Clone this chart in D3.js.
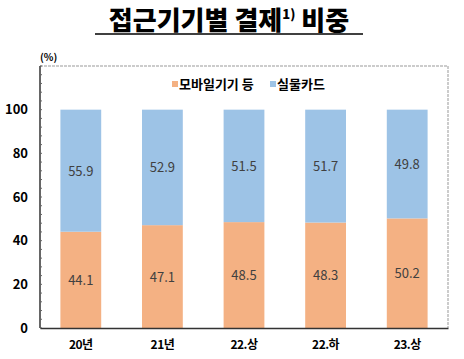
<!DOCTYPE html>
<html><head><meta charset="utf-8">
<script src="https://cdn.jsdelivr.net/npm/d3@7"></script>
<style>body{margin:0;background:#fff}svg{display:block}</style>
</head><body>
<svg id="c" width="464" height="359"></svg>
<script>
const categories = ["20년","21년","22.상","22.하","23.상"];
const mobile = [44.1, 47.1, 48.5, 48.3, 50.2];
const card = [55.9, 52.9, 51.5, 51.7, 49.8];
const seriesNames = ["모바일기기 등","실물카드"];
const yTicks = [0,20,40,60,80,100];
const colors = ["#F4B183","#9DC3E6"];

const svg = d3.select("#c");
const font = "'Noto Sans CJK KR', 'Noto Sans', sans-serif";
const m = {l:40, r:448, t:66, b:328};
const x = d3.scaleBand().domain(categories).range([m.l, m.r]).paddingInner(0.5).paddingOuter(0.25);
const y = d3.scaleLinear().domain([0,120]).range([m.b, m.t]);

// title
const title = svg.append("text").attr("x", 229).attr("y", 30).attr("text-anchor","middle")
  .attr("font-family", font).attr("font-weight", 900).attr("font-size", 26).attr("fill","#000");
title.append("tspan").text("접근기기별 결제");
title.append("tspan").text("1)").attr("font-size", 13).attr("dy", -11);
title.append("tspan").text(" 비중").attr("dy", 11);
svg.append("line").attr("x1", 95).attr("x2", 363).attr("y1", 34).attr("y2", 34).attr("stroke","#000").attr("stroke-width",1.3);

svg.append("text").attr("x", 40).attr("y", 61).text("(%)").attr("font-family", font)
  .attr("font-weight",700).attr("font-size",10);

// frame: dashed top/right
svg.append("path").attr("d", `M${m.l},${m.t}H${m.r}V${m.b}`).attr("fill","none")
  .attr("stroke","#999").attr("stroke-width",1).attr("stroke-dasharray","3,1");

const stacked = d3.stack().keys([0,1]).value((d,k)=> k===0 ? d.m : d.c)(
  categories.map((c,i)=>({cat:c, m:mobile[i], c:card[i]})));

stacked.forEach((s,si)=>{
  svg.append("g").selectAll("rect").data(s).join("rect")
    .attr("x", d=>x(d.data.cat)).attr("width", x.bandwidth())
    .attr("y", d=>y(d[1])).attr("height", d=>y(d[0])-y(d[1]))
    .attr("fill", colors[si]);
  svg.append("g").selectAll("text").data(s).join("text")
    .attr("x", d=>x(d.data.cat)+x.bandwidth()/2)
    .attr("y", d=>(y(d[0])+y(d[1]))/2 + 5)
    .attr("text-anchor","middle").attr("font-family", font).attr("font-size",13)
    .attr("fill","#404040").text(d=>(d[1]-d[0]).toFixed(1));
});

// axes
const yAxis = svg.append("g").attr("transform",`translate(${m.l},0)`)
  .call(d3.axisLeft(y).tickValues(yTicks).tickSize(0).tickPadding(12));
yAxis.select(".domain").attr("stroke","#333").attr("stroke-width",1.5).attr("d",`M0,${m.t}V${m.b}`);
yAxis.selectAll("text").attr("font-family", font).attr("font-weight",700).attr("font-size",13).attr("fill","#000");
// minor ticks on left axis
svg.append("g").selectAll("line").data(d3.range(0,121,4)).join("line")
  .attr("x1", m.l).attr("x2", m.l+2).attr("y1", d=>y(d)).attr("y2", d=>y(d)).attr("stroke","#666");

const xAxis = svg.append("g").attr("transform",`translate(0,${m.b})`)
  .call(d3.axisBottom(x).tickSize(0).tickPadding(12));
xAxis.select(".domain").attr("stroke","#333").attr("stroke-width",1.5);
xAxis.selectAll("text").attr("font-family", font).attr("font-weight",700).attr("font-size",12).attr("fill","#000").attr("letter-spacing",-0.5);

// legend
const lg = [{x:172, i:0},{x:270, i:1}];
lg.forEach(d=>{
  svg.append("rect").attr("x", d.x).attr("y", 81).attr("width",6).attr("height",6).attr("fill",colors[d.i]);
  svg.append("text").attr("x", d.x+7).attr("y", 89).text(seriesNames[d.i]).attr("font-family", font)
    .attr("font-weight",700).attr("font-size",13).attr("fill","#000");
});
</script>
</body></html>
